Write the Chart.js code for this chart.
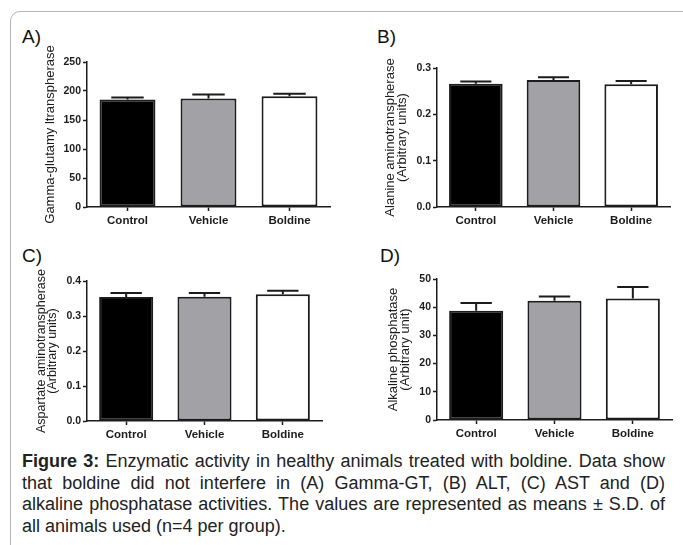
<!DOCTYPE html>
<html>
<head>
<meta charset="utf-8">
<script src="https://cdn.jsdelivr.net/npm/chart.js@4.4.0/dist/chart.umd.min.js"></script>
<style>
  body { margin: 0; width: 683px; height: 545px; overflow: hidden; background: #fff; position: relative; font-family: "Liberation Sans", Arial, sans-serif; }
  .frame { position: absolute; left: 10px; top: 11px; width: 720px; height: 600px; border: 1px solid #b5b5b5; border-radius: 10px; }
  canvas { position: absolute; }
  .tag { position: absolute; font-size: 19px; line-height: 19px; color: #111; }
  .caption { position: absolute; left: 22px; top: 451px; width: 643px; font-size: 18px; line-height: 21.7px; color: #222; }
  .caption div { white-space: nowrap; text-align: justify; text-align-last: justify; }
  .caption div.last { text-align: left; text-align-last: left; }
  .caption b { font-weight: bold; }
</style>
</head>
<body>
<div class="frame"></div>

<div class="tag" style="left:22px; top:27px;">A)</div>
<div class="tag" style="left:377px; top:27px;">B)</div>
<div class="tag" style="left:22px; top:246px;">C)</div>
<div class="tag" style="left:380px; top:246px;">D)</div>

<canvas id="chartA" width="340" height="200" style="left:0; top:40px;"></canvas>
<canvas id="chartB" width="343" height="200" style="left:340px; top:40px;"></canvas>
<canvas id="chartC" width="340" height="210" style="left:0; top:240px;"></canvas>
<canvas id="chartD" width="343" height="210" style="left:340px; top:240px;"></canvas>

<div class="caption">
  <div><b>Figure 3:</b> Enzymatic activity in healthy animals treated with boldine. Data show</div>
  <div>that boldine did not interfere in (A) Gamma-GT, (B) ALT, (C) AST and (D)</div>
  <div>alkaline phosphatase activities. The values are represented as means ± S.D. of</div>
  <div class="last">all animals used (n=4 per group).</div>
</div>

<script>
// groups and values (mean, S.D.)
const groups = ['Control', 'Vehicle', 'Boldine'];

const ggtMean = [185.5, 187.0, 190.8];
const ggtSD = [3.3, 7.0, 4.6];

const altMean = [0.266, 0.274, 0.265];
const altSD = [0.005, 0.006, 0.007];

const astMean = [0.354, 0.355, 0.362];
const astSD = [0.012, 0.011, 0.010];

const alpMean = [38.7, 42.3, 43.1];
const alpSD = [2.8, 1.5, 4.1];

const barColors = ['#000000', '#a2a2a6', '#ffffff'];
const ink = '#1c1c1c';
const sansFont = '"Liberation Sans", Arial, sans-serif';

// draws the upper half of the S.D. bar (GraphPad style)
const errorBarPlugin = {
  id: 'errorBars',
  afterDatasetsDraw(chart) {
    const ctx = chart.ctx;
    const yScale = chart.scales.y;
    const ds = chart.data.datasets[0];
    const meta = chart.getDatasetMeta(0);
    ctx.save();
    ctx.strokeStyle = ink;
    ctx.lineWidth = 2;
    meta.data.forEach((bar, i) => {
      const top = yScale.getPixelForValue(ds.data[i]);
      const end = yScale.getPixelForValue(ds.data[i] + ds.sd[i]);
      const half = bar.width * 0.29;
      ctx.beginPath();
      ctx.moveTo(bar.x, top);
      ctx.lineTo(bar.x, end);
      ctx.moveTo(bar.x - half, end);
      ctx.lineTo(bar.x + half, end);
      ctx.stroke();
    });
    ctx.restore();
  }
};

function makePanel(id, means, sds, cfg) {
  return new Chart(document.getElementById(id), {
    type: 'bar',
    data: {
      labels: groups,
      datasets: [{
        data: means,
        sd: sds,
        backgroundColor: barColors,
        borderColor: ink,
        borderWidth: 2,
        borderSkipped: false,
        barPercentage: 0.69,
        categoryPercentage: 1.0
      }]
    },
    plugins: [errorBarPlugin],
    options: {
      responsive: false,
      animation: false,
      layout: { padding: { left: cfg.padLeft, top: cfg.padTop, right: cfg.padRight, bottom: 0 } },
      plugins: { legend: { display: false }, tooltip: { enabled: false } },
      scales: {
        x: {
          afterFit: (scale) => { scale.height = cfg.xHeight; },
          grid: { offset: false, drawOnChartArea: false, drawTicks: true, tickLength: 4, tickColor: ink, tickWidth: 1.5 },
          border: { display: true, color: ink, width: 1.5 },
          ticks: { color: ink, padding: 3, font: { family: sansFont, size: 11.5, weight: 'bold' } }
        },
        y: {
          min: 0,
          max: cfg.max,
          afterFit: (scale) => { scale.width = cfg.yWidth; },
          grid: { drawOnChartArea: false, drawTicks: true, tickLength: 4, tickColor: ink, tickWidth: 1.5 },
          border: { display: true, color: ink, width: 1.5 },
          ticks: {
            stepSize: cfg.step,
            color: ink,
            padding: 2,
            font: { family: sansFont, size: 10.5, weight: 'bold' },
            callback: (v) => v.toFixed(cfg.digits)
          },
          title: {
            display: true,
            text: cfg.title,
            color: ink,
            padding: 0,
            font: { family: sansFont, size: cfg.titleSize, lineHeight: 0.9 }
          }
        }
      }
    }
  });
}

makePanel('chartA', ggtMean, ggtSD, {
  max: 250, step: 50, digits: 0, titleSize: 13,
  title: 'Gamma-glutamy ltranspherase',
  padLeft: 45, padTop: 22, padRight: 10, yWidth: 42, xHeight: 33
});

makePanel('chartB', altMean, altSD, {
  max: 0.3, step: 0.1, digits: 1, titleSize: 13,
  title: ['Alanine aminotranspherase', '(Arbitrary units)'],
  padLeft: 45, padTop: 28, padRight: 13, yWidth: 52, xHeight: 33
});

makePanel('chartC', astMean, astSD, {
  max: 0.4, step: 0.1, digits: 1, titleSize: 12.5,
  title: ['Aspartate aminotranspherase', '(Arbitrary units)'],
  padLeft: 36, padTop: 41, padRight: 18, yWidth: 51, xHeight: 29
});

makePanel('chartD', alpMean, alpSD, {
  max: 50, step: 10, digits: 0, titleSize: 13,
  title: ['Alkaline phosphatase', '(Arbitrary unit)'],
  padLeft: 48, padTop: 39, padRight: 11, yWidth: 49, xHeight: 30
});
</script>
</body>
</html>
